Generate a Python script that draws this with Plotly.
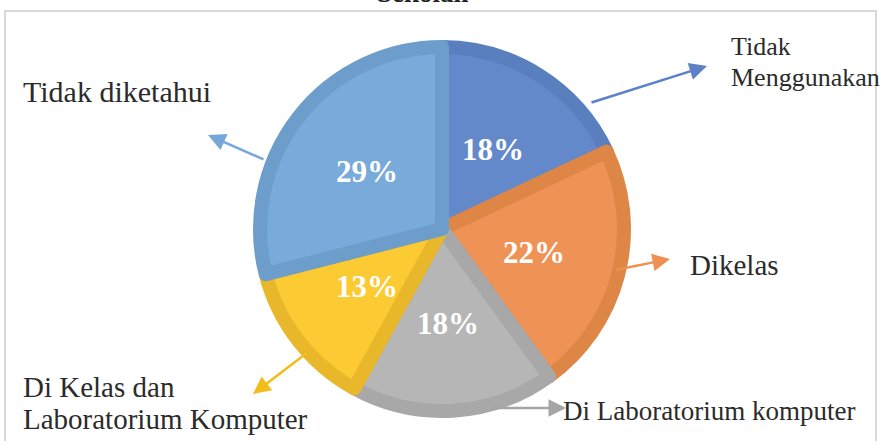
import math
import plotly.graph_objects as go

# ---- data ----
categories = ["Tidak Menggunakan", "Dikelas", "Di Laboratorium komputer",
              "Di Kelas dan Laboratorium Komputer", "Tidak diketahui"]
values = [18, 22, 18, 13, 29]
label_texts = ["Tidak<br>Menggunakan", "Dikelas", "Di Laboratorium komputer",
               "Di Kelas dan<br>Laboratorium Komputer", "Tidak diketahui"]
title_text = "Sekolah"

fill_colors = ["#6389CA", "#EE9256", "#B6B6B6", "#FCCA33", "#78AADA"]
edge_colors = ["#5A7FBF", "#DE8646", "#A8A8A8", "#E8B72A", "#6C9DCB"]
arrow_colors = ["#5B82C6", "#EE9052", "#A5A5A5", "#F2BD1A", "#76A7D8"]

W, H = 886, 441
cx, cy, R = 442, 229, 189
stroke = 14
r = R - stroke / 2
SERIF = "Times New Roman, Liberation Serif, serif"

fig = go.Figure()
fig.add_trace(go.Pie(
    labels=categories, values=values, sort=False, direction="clockwise", rotation=0,
    marker=dict(colors=fill_colors, line=dict(color=edge_colors, width=stroke)),
    textinfo="none",
    hoverinfo="label+percent", showlegend=False,
    domain=dict(x=[(cx - r) / W, (cx + r) / W], y=[1 - (cy + r) / H, 1 - (cy - r) / H]),
))

def px(x):
    return x / W

def py(y):
    return 1 - y / H

annotations = []

# percentage labels placed at half radius along each slice's mid-angle
total = sum(values)
cum = 0
for v in values:
    mid = (cum + v / 2) / total * 2 * math.pi
    cum += v
    lx = cx + 0.5 * R * math.sin(mid)
    ly = cy - 0.5 * R * math.cos(mid)
    annotations.append(dict(
        x=px(lx), y=py(ly), xref="paper", yref="paper",
        text="<b>%d%%</b>" % round(v / total * 100), showarrow=False,
        xanchor="center", yanchor="middle",
        font=dict(family=SERIF, size=31, color="white"),
    ))

# outside labels: (text x, text y, font size), arrow head, arrow tail
label_layout = [
    (729, 62, 26, (707, 66), (590, 103)),
    (688, 265, 29, (670, 259), (615, 270)),
    (561, 411, 27, (566, 408), (490, 408)),
    (21, 403, 29, (253, 394), (308, 352)),
    (21, 92, 30, (208, 135), (265, 160)),
]
line_gap = 32
for txt, col, (tx, ty, fs, head, tail) in zip(label_texts, arrow_colors, label_layout):
    lines = txt.split("<br>")
    n = len(lines)
    for i, ln in enumerate(lines):
        ly = ty + (i - (n - 1) / 2) * line_gap
        annotations.append(dict(
            x=px(tx), y=py(ly), xref="paper", yref="paper", text=ln, showarrow=False,
            xanchor="left", yanchor="middle", align="left",
            font=dict(family=SERIF, size=fs, color="#2b2b2b"),
        ))
    annotations.append(dict(
        x=px(head[0]), y=py(head[1]), xref="paper", yref="paper", text="",
        showarrow=True, arrowhead=2, arrowsize=1.4, arrowwidth=2.5, arrowcolor=col,
        ax=tail[0] - head[0], ay=tail[1] - head[1], standoff=0,
    ))

annotations.append(dict(
    x=px(423), y=py(10), xref="paper", yref="paper", text="<b>" + title_text + "</b>",
    showarrow=False, xanchor="center", yanchor="bottom",
    font=dict(family=SERIF, size=27, color="#222222"),
))

fig.update_layout(
    width=W, height=H, margin=dict(l=0, r=0, t=0, b=0),
    paper_bgcolor="white", plot_bgcolor="white",
    annotations=annotations,
    shapes=[dict(type="rect", xref="paper", yref="paper",
                 x0=px(5), x1=px(876), y0=py(460), y1=py(11),
                 line=dict(color="#D9D9D9", width=2), fillcolor="rgba(0,0,0,0)", layer="below")],
)

fig.write_html("out.html", config={"displayModeBar": False},
               post_script="document.body.style.margin='0';document.body.style.overflow='hidden';")
